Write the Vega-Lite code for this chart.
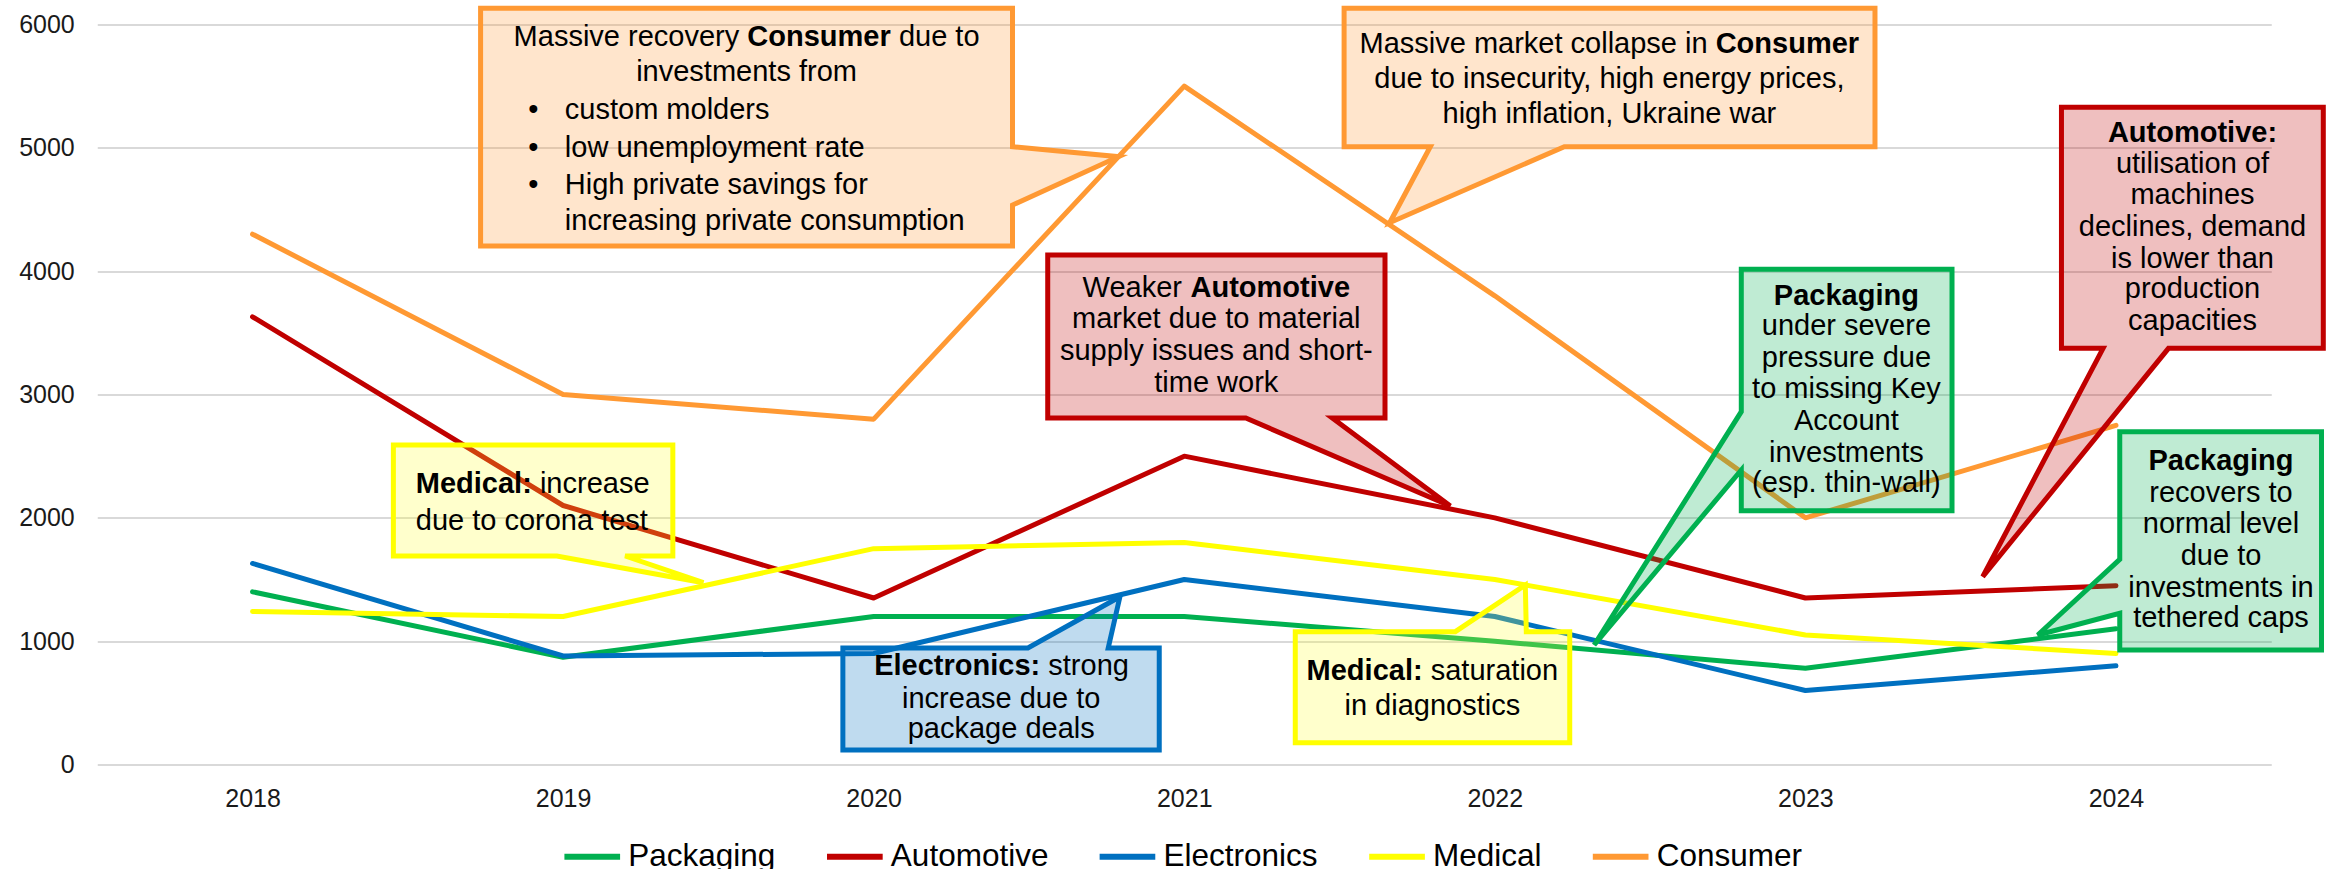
{
  "$schema": "https://vega.github.io/schema/vega-lite/v6.json",
  "width": 2174,
  "height": 740,
  "autosize": {"type": "none"},
  "padding": {"left": 97.25, "top": 24.5, "right": 61.75, "bottom": 104.5},
  "background": "white",
  "config": {
    "view": {"stroke": null},
    "font": "Liberation Sans",
    "axis": {"labelFont": "Liberation Sans", "labelFontSize": 25, "labelColor": "#1a1a1a", "domain": false, "ticks": false, "tickSize": 0, "title": null},
    "legend": {"labelFont": "Liberation Sans"}
  },
  "datasets": {
    "sales": [
      {"year": 2018, "series": "Packaging", "value": 1400},
      {"year": 2019, "series": "Packaging", "value": 870},
      {"year": 2020, "series": "Packaging", "value": 1200},
      {"year": 2021, "series": "Packaging", "value": 1200},
      {"year": 2022, "series": "Packaging", "value": 1000},
      {"year": 2023, "series": "Packaging", "value": 780},
      {"year": 2024, "series": "Packaging", "value": 1100},
      {"year": 2018, "series": "Automotive", "value": 3630},
      {"year": 2019, "series": "Automotive", "value": 2100},
      {"year": 2020, "series": "Automotive", "value": 1350},
      {"year": 2021, "series": "Automotive", "value": 2500},
      {"year": 2022, "series": "Automotive", "value": 2000},
      {"year": 2023, "series": "Automotive", "value": 1350},
      {"year": 2024, "series": "Automotive", "value": 1450},
      {"year": 2018, "series": "Electronics", "value": 1630},
      {"year": 2019, "series": "Electronics", "value": 880},
      {"year": 2020, "series": "Electronics", "value": 900},
      {"year": 2021, "series": "Electronics", "value": 1500},
      {"year": 2022, "series": "Electronics", "value": 1200},
      {"year": 2023, "series": "Electronics", "value": 600},
      {"year": 2024, "series": "Electronics", "value": 800},
      {"year": 2018, "series": "Medical", "value": 1240},
      {"year": 2019, "series": "Medical", "value": 1200},
      {"year": 2020, "series": "Medical", "value": 1750},
      {"year": 2021, "series": "Medical", "value": 1800},
      {"year": 2022, "series": "Medical", "value": 1500},
      {"year": 2023, "series": "Medical", "value": 1050},
      {"year": 2024, "series": "Medical", "value": 900},
      {"year": 2018, "series": "Consumer", "value": 4300},
      {"year": 2019, "series": "Consumer", "value": 3000},
      {"year": 2020, "series": "Consumer", "value": 2800},
      {"year": 2021, "series": "Consumer", "value": 5500},
      {"year": 2022, "series": "Consumer", "value": 3800},
      {"year": 2023, "series": "Consumer", "value": 2000},
      {"year": 2024, "series": "Consumer", "value": 2750}
    ],
    "shapes": [
      {"note": "c1", "series": "Consumer", "k": 0, "x": 2018.7343, "y": 6131.3},
      {"note": "c1", "series": "Consumer", "k": 1, "x": 2020.447, "y": 6131.3},
      {"note": "c1", "series": "Consumer", "k": 2, "x": 2020.447, "y": 5009.2},
      {"note": "c1", "series": "Consumer", "k": 3, "x": 2020.7884, "y": 4928.1},
      {"note": "c1", "series": "Consumer", "k": 4, "x": 2020.447, "y": 4536.5},
      {"note": "c1", "series": "Consumer", "k": 5, "x": 2020.447, "y": 4204.1},
      {"note": "c1", "series": "Consumer", "k": 6, "x": 2018.7343, "y": 4204.1},
      {"note": "c2", "series": "Consumer", "k": 0, "x": 2021.5147, "y": 6131.3},
      {"note": "c2", "series": "Consumer", "k": 1, "x": 2023.2241, "y": 6131.3},
      {"note": "c2", "series": "Consumer", "k": 2, "x": 2023.2241, "y": 5009.2},
      {"note": "c2", "series": "Consumer", "k": 3, "x": 2022.2238, "y": 5009.2},
      {"note": "c2", "series": "Consumer", "k": 4, "x": 2021.6615, "y": 4393.0},
      {"note": "c2", "series": "Consumer", "k": 5, "x": 2021.7923, "y": 5009.2},
      {"note": "c2", "series": "Consumer", "k": 6, "x": 2021.5147, "y": 5009.2},
      {"note": "c3", "series": "Automotive", "k": 0, "x": 2020.5604, "y": 4131.1},
      {"note": "c3", "series": "Automotive", "k": 1, "x": 2021.6464, "y": 4131.1},
      {"note": "c3", "series": "Automotive", "k": 2, "x": 2021.6464, "y": 2809.4},
      {"note": "c3", "series": "Automotive", "k": 3, "x": 2021.4767, "y": 2809.4},
      {"note": "c3", "series": "Automotive", "k": 4, "x": 2021.8567, "y": 2095.9},
      {"note": "c3", "series": "Automotive", "k": 5, "x": 2021.1981, "y": 2809.4},
      {"note": "c3", "series": "Automotive", "k": 6, "x": 2020.5604, "y": 2809.4},
      {"note": "c4", "series": "Medical", "k": 0, "x": 2018.4535, "y": 2590.5},
      {"note": "c4", "series": "Medical", "k": 1, "x": 2019.3533, "y": 2590.5},
      {"note": "c4", "series": "Medical", "k": 2, "x": 2019.3533, "y": 1690.5},
      {"note": "c4", "series": "Medical", "k": 3, "x": 2019.1997, "y": 1690.5},
      {"note": "c4", "series": "Medical", "k": 4, "x": 2019.4519, "y": 1474.1},
      {"note": "c4", "series": "Medical", "k": 5, "x": 2018.9797, "y": 1690.5},
      {"note": "c4", "series": "Medical", "k": 6, "x": 2018.4535, "y": 1690.5},
      {"note": "c5", "series": "Electronics", "k": 0, "x": 2019.9008, "y": 944.6},
      {"note": "c5", "series": "Electronics", "k": 1, "x": 2020.4966, "y": 944.6},
      {"note": "c5", "series": "Electronics", "k": 2, "x": 2020.7929, "y": 1360.5},
      {"note": "c5", "series": "Electronics", "k": 3, "x": 2020.7552, "y": 944.6},
      {"note": "c5", "series": "Electronics", "k": 4, "x": 2020.9195, "y": 944.6},
      {"note": "c5", "series": "Electronics", "k": 5, "x": 2020.9195, "y": 117.6},
      {"note": "c5", "series": "Electronics", "k": 6, "x": 2019.9008, "y": 117.6},
      {"note": "c6", "series": "Medical", "k": 0, "x": 2021.3575, "y": 1076.8},
      {"note": "c6", "series": "Medical", "k": 1, "x": 2021.8728, "y": 1076.8},
      {"note": "c6", "series": "Medical", "k": 2, "x": 2022.0982, "y": 1455.4},
      {"note": "c6", "series": "Medical", "k": 3, "x": 2022.1014, "y": 1076.8},
      {"note": "c6", "series": "Medical", "k": 4, "x": 2022.2412, "y": 1076.8},
      {"note": "c6", "series": "Medical", "k": 5, "x": 2022.2412, "y": 176.8},
      {"note": "c6", "series": "Medical", "k": 6, "x": 2021.3575, "y": 176.8},
      {"note": "c7", "series": "Packaging", "k": 0, "x": 2022.7936, "y": 4015.1},
      {"note": "c7", "series": "Packaging", "k": 1, "x": 2023.4721, "y": 4015.1},
      {"note": "c7", "series": "Packaging", "k": 2, "x": 2023.4721, "y": 2057.8},
      {"note": "c7", "series": "Packaging", "k": 3, "x": 2022.7936, "y": 2057.8},
      {"note": "c7", "series": "Packaging", "k": 4, "x": 2022.7936, "y": 2387.8},
      {"note": "c7", "series": "Packaging", "k": 5, "x": 2022.3198, "y": 968.9},
      {"note": "c7", "series": "Packaging", "k": 6, "x": 2022.7936, "y": 2860.5},
      {"note": "c8", "series": "Automotive", "k": 0, "x": 2023.8245, "y": 5328.6},
      {"note": "c8", "series": "Automotive", "k": 1, "x": 2024.6676, "y": 5328.6},
      {"note": "c8", "series": "Automotive", "k": 2, "x": 2024.6676, "y": 3374.6},
      {"note": "c8", "series": "Automotive", "k": 3, "x": 2024.1691, "y": 3374.6},
      {"note": "c8", "series": "Automotive", "k": 4, "x": 2023.571, "y": 1522.7},
      {"note": "c8", "series": "Automotive", "k": 5, "x": 2023.9585, "y": 3374.6},
      {"note": "c8", "series": "Automotive", "k": 6, "x": 2023.8245, "y": 3374.6},
      {"note": "c9", "series": "Packaging", "k": 0, "x": 2024.0122, "y": 2698.4},
      {"note": "c9", "series": "Packaging", "k": 1, "x": 2024.6618, "y": 2698.4},
      {"note": "c9", "series": "Packaging", "k": 2, "x": 2024.6618, "y": 928.4},
      {"note": "c9", "series": "Packaging", "k": 3, "x": 2024.0122, "y": 928.4},
      {"note": "c9", "series": "Packaging", "k": 4, "x": 2024.0122, "y": 1225.9},
      {"note": "c9", "series": "Packaging", "k": 5, "x": 2023.7482, "y": 1050.0},
      {"note": "c9", "series": "Packaging", "k": 6, "x": 2024.0122, "y": 1663.8}
    ],
    "notes": [
      {"note": "c1", "t": "Massive recovery", "x": 2018.8406, "y": 5828.1, "key": false, "anchor": "start"},
      {"note": "c1", "t": "Consumer", "x": 2019.5932, "y": 5828.1, "key": true, "anchor": "start"},
      {"note": "c1", "t": "due to", "x": 2020.0812, "y": 5828.1, "key": false, "anchor": "start"},
      {"note": "c1", "t": "investments from", "x": 2019.5907, "y": 5541.9, "key": false, "anchor": "middle"},
      {"note": "c1", "t": "•", "x": 2018.904, "y": 5233.8, "key": false, "anchor": "middle"},
      {"note": "c1", "t": "•", "x": 2018.904, "y": 4928.1, "key": false, "anchor": "middle"},
      {"note": "c1", "t": "•", "x": 2018.904, "y": 4623.2, "key": false, "anchor": "middle"},
      {"note": "c1", "t": "custom molders", "x": 2019.0055, "y": 5233.8, "key": false, "anchor": "start"},
      {"note": "c1", "t": "low unemployment rate", "x": 2019.0055, "y": 4928.1, "key": false, "anchor": "start"},
      {"note": "c1", "t": "High private savings for", "x": 2019.0055, "y": 4623.2, "key": false, "anchor": "start"},
      {"note": "c1", "t": "increasing private consumption", "x": 2019.0055, "y": 4333.8, "key": false, "anchor": "start"},
      {"note": "c2", "t": "Massive market collapse in", "x": 2021.5642, "y": 5766.5, "key": false, "anchor": "start"},
      {"note": "c2", "t": "Consumer", "x": 2022.7111, "y": 5766.5, "key": true, "anchor": "start"},
      {"note": "c2", "t": "due to insecurity, high energy prices,", "x": 2022.3688, "y": 5482.7, "key": false, "anchor": "middle"},
      {"note": "c2", "t": "high inflation, Ukraine war", "x": 2022.3688, "y": 5199.0, "key": false, "anchor": "middle"},
      {"note": "c3", "t": "Weaker", "x": 2020.6725, "y": 3792.9, "key": false, "anchor": "start"},
      {"note": "c3", "t": "Automotive", "x": 2021.0203, "y": 3792.9, "key": true, "anchor": "start"},
      {"note": "c3", "t": "market due to material", "x": 2021.1031, "y": 3536.8, "key": false, "anchor": "middle"},
      {"note": "c3", "t": "supply issues and short-", "x": 2021.1031, "y": 3279.7, "key": false, "anchor": "middle"},
      {"note": "c3", "t": "time work", "x": 2021.1031, "y": 3022.7, "key": false, "anchor": "middle"},
      {"note": "c4", "t": "Medical:", "x": 2018.5256, "y": 2198.9, "key": true, "anchor": "start"},
      {"note": "c4", "t": "increase", "x": 2018.9253, "y": 2198.9, "key": false, "anchor": "start"},
      {"note": "c4", "t": "due to corona test", "x": 2018.5256, "y": 1901.3, "key": false, "anchor": "start"},
      {"note": "c5", "t": "Electronics:", "x": 2020.0016, "y": 725.7, "key": true, "anchor": "start"},
      {"note": "c5", "t": "strong", "x": 2020.5623, "y": 725.7, "key": false, "anchor": "start"},
      {"note": "c5", "t": "increase due to", "x": 2020.4106, "y": 455.7, "key": false, "anchor": "middle"},
      {"note": "c5", "t": "package deals", "x": 2020.4106, "y": 212.4, "key": false, "anchor": "middle"},
      {"note": "c6", "t": "Medical:", "x": 2021.3939, "y": 685.1, "key": true, "anchor": "start"},
      {"note": "c6", "t": "saturation", "x": 2021.7936, "y": 685.1, "key": false, "anchor": "start"},
      {"note": "c6", "t": "in diagnostics", "x": 2021.7987, "y": 401.4, "key": false, "anchor": "middle"},
      {"note": "c7", "t": "Packaging", "x": 2023.132, "y": 3725.7, "key": true, "anchor": "middle"},
      {"note": "c7", "t": "under severe", "x": 2023.132, "y": 3482.4, "key": false, "anchor": "middle"},
      {"note": "c7", "t": "pressure due", "x": 2023.132, "y": 3225.4, "key": false, "anchor": "middle"},
      {"note": "c7", "t": "to missing Key", "x": 2023.132, "y": 2969.2, "key": false, "anchor": "middle"},
      {"note": "c7", "t": "Account", "x": 2023.132, "y": 2712.2, "key": false, "anchor": "middle"},
      {"note": "c7", "t": "investments", "x": 2023.132, "y": 2455.1, "key": false, "anchor": "middle"},
      {"note": "c7", "t": "(esp. thin-wall)", "x": 2023.132, "y": 2211.9, "key": false, "anchor": "middle"},
      {"note": "c8", "t": "Automotive:", "x": 2024.2464, "y": 5049.7, "key": true, "anchor": "middle"},
      {"note": "c8", "t": "utilisation of", "x": 2024.2464, "y": 4793.5, "key": false, "anchor": "middle"},
      {"note": "c8", "t": "machines", "x": 2024.2464, "y": 4544.6, "key": false, "anchor": "middle"},
      {"note": "c8", "t": "declines, demand", "x": 2024.2464, "y": 4285.1, "key": false, "anchor": "middle"},
      {"note": "c8", "t": "is lower than", "x": 2024.2464, "y": 4028.1, "key": false, "anchor": "middle"},
      {"note": "c8", "t": "production", "x": 2024.2464, "y": 3780.0, "key": false, "anchor": "middle"},
      {"note": "c8", "t": "capacities", "x": 2024.2464, "y": 3523.0, "key": false, "anchor": "middle"},
      {"note": "c9", "t": "Packaging", "x": 2024.3382, "y": 2387.8, "key": true, "anchor": "middle"},
      {"note": "c9", "t": "recovers to", "x": 2024.3382, "y": 2130.8, "key": false, "anchor": "middle"},
      {"note": "c9", "t": "normal level", "x": 2024.3382, "y": 1874.6, "key": false, "anchor": "middle"},
      {"note": "c9", "t": "due to", "x": 2024.3382, "y": 1617.6, "key": false, "anchor": "middle"},
      {"note": "c9", "t": "investments in", "x": 2024.3382, "y": 1360.5, "key": false, "anchor": "middle"},
      {"note": "c9", "t": "tethered caps", "x": 2024.3382, "y": 1112.4, "key": false, "anchor": "middle"}
    ]
  },
  "layer": [
    {
      "data": {"name": "sales"},
      "mark": {"type": "line", "strokeWidth": 5, "strokeJoin": "round", "strokeCap": "round"},
      "encoding": {
        "x": {"field": "year", "type": "quantitative", "scale": {"domain": [2017.5, 2024.5], "nice": false, "zero": false},
              "axis": {"values": [2018, 2019, 2020, 2021, 2022, 2023, 2024], "format": "d", "grid": false, "labelPadding": 22, "title": null}},
        "y": {"field": "value", "type": "quantitative", "scale": {"domain": [0, 6000], "nice": false},
              "axis": {"values": [0, 1000, 2000, 3000, 4000, 5000, 6000], "format": "d", "grid": true, "gridColor": "#D9D9D9", "gridWidth": 2, "labelPadding": 23, "title": null}},
        "color": {"field": "series", "type": "nominal",
                  "scale": {"domain": ["Packaging", "Automotive", "Electronics", "Medical", "Consumer"], "range": ["#00B050", "#C00000", "#0070C0", "#FFFF00", "#FF9933"]},
                  "legend": {"orient": "none", "legendX": 464, "legendY": 801, "direction": "horizontal", "title": null, "symbolType": "stroke", "symbolSize": 3100, "symbolStrokeWidth": 6, "labelFontSize": 31.5, "labelColor": "#000000", "labelOffset": 5, "columnPadding": 38.6}},
        "order": {"field": "year", "type": "quantitative"}
      }
    },
    {
      "data": {"name": "shapes"},
      "mark": {"type": "line", "interpolate": "linear-closed", "strokeWidth": 5, "strokeJoin": "miter", "fillOpacity": 0.25},
      "encoding": {
        "x": {"field": "x", "type": "quantitative", "scale": {"domain": [2017.5, 2024.5], "nice": false, "zero": false}},
        "y": {"field": "y", "type": "quantitative", "scale": {"domain": [0, 6000], "nice": false}},
        "detail": {"field": "note", "type": "nominal"},
        "order": {"field": "k", "type": "quantitative"},
        "stroke": {"field": "series", "type": "nominal", "legend": null,
                   "scale": {"domain": ["Packaging", "Automotive", "Electronics", "Medical", "Consumer"], "range": ["#00B050", "#C00000", "#0070C0", "#FFFF00", "#FF9933"]}},
        "fill": {"field": "series", "type": "nominal", "legend": null,
                 "scale": {"domain": ["Packaging", "Automotive", "Electronics", "Medical", "Consumer"], "range": ["#00B050", "#C00000", "#0070C0", "#FFFF33", "#FF9933"]}}
      }
    },
    {
      "data": {"name": "notes"},
      "transform": [{"filter": "!datum.key && datum.anchor === 'middle'"}],
      "mark": {"type": "text", "font": "Liberation Sans", "fontSize": 29, "align": "center", "baseline": "alphabetic", "color": "#000000"},
      "encoding": {
        "x": {"field": "x", "type": "quantitative", "scale": {"domain": [2017.5, 2024.5], "nice": false, "zero": false}},
        "y": {"field": "y", "type": "quantitative", "scale": {"domain": [0, 6000], "nice": false}},
        "text": {"field": "t", "type": "nominal"}
      }
    },
    {
      "data": {"name": "notes"},
      "transform": [{"filter": "datum.key && datum.anchor === 'middle'"}],
      "mark": {"type": "text", "font": "Liberation Sans", "fontSize": 29, "fontWeight": "bold", "align": "center", "baseline": "alphabetic", "color": "#000000"},
      "encoding": {
        "x": {"field": "x", "type": "quantitative", "scale": {"domain": [2017.5, 2024.5], "nice": false, "zero": false}},
        "y": {"field": "y", "type": "quantitative", "scale": {"domain": [0, 6000], "nice": false}},
        "text": {"field": "t", "type": "nominal"}
      }
    },
    {
      "data": {"name": "notes"},
      "transform": [{"filter": "!datum.key && datum.anchor === 'start'"}],
      "mark": {"type": "text", "font": "Liberation Sans", "fontSize": 29, "align": "left", "baseline": "alphabetic", "color": "#000000"},
      "encoding": {
        "x": {"field": "x", "type": "quantitative", "scale": {"domain": [2017.5, 2024.5], "nice": false, "zero": false}},
        "y": {"field": "y", "type": "quantitative", "scale": {"domain": [0, 6000], "nice": false}},
        "text": {"field": "t", "type": "nominal"}
      }
    },
    {
      "data": {"name": "notes"},
      "transform": [{"filter": "datum.key && datum.anchor === 'start'"}],
      "mark": {"type": "text", "font": "Liberation Sans", "fontSize": 29, "fontWeight": "bold", "align": "left", "baseline": "alphabetic", "color": "#000000"},
      "encoding": {
        "x": {"field": "x", "type": "quantitative", "scale": {"domain": [2017.5, 2024.5], "nice": false, "zero": false}},
        "y": {"field": "y", "type": "quantitative", "scale": {"domain": [0, 6000], "nice": false}},
        "text": {"field": "t", "type": "nominal"}
      }
    }
  ]
}
